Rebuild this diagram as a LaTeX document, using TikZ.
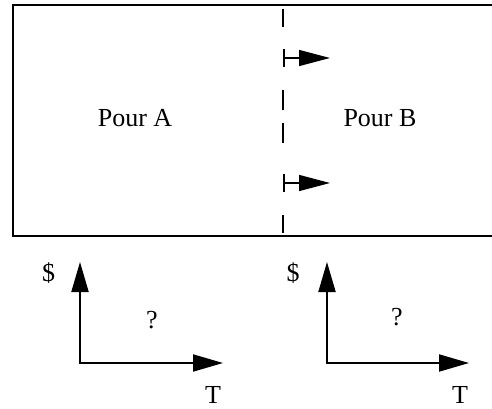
\documentclass[tikz,border=0pt]{standalone}
\usepackage{fontspec}
\setmainfont{Liberation Serif}
\usetikzlibrary{arrows.meta}
\begin{document}
\begin{tikzpicture}[x=1pt,y=-1pt,
  frame/.style={line width=2pt},
  dashseg/.style={line width=2pt},
  flowarrow/.style={line width=1.4pt, {Bar[width=18pt,line width=2pt]}-{Triangle[length=31pt,width=16pt]}},
  axis/.style={line width=2pt, {Triangle[length=30pt,width=17pt]}-{Triangle[length=30pt,width=17pt]}},
  lbl/.style={font=\fontsize{26}{30}\selectfont, inner sep=0pt, anchor=base}]
\useasboundingbox (0,0) rectangle (492,409);
% box (right side runs off the picture)
\draw[frame] (492,5) -- (13,5) -- (13,236) -- (492,236);
% dashed divider
\foreach \ya/\yb in {9/27, 90/110, 123/143, 215/233}
  \draw[dashseg] (283,\ya) -- (283,\yb);
% flow arrows
\coordinate (a1s) at (283,58);
\coordinate (a1e) at (330,58);
\coordinate (a2s) at (283,183);
\coordinate (a2e) at (330,183);
\draw[flowarrow] (a1s) -- (a1e);
\draw[flowarrow] (a2s) -- (a2e);
% labels in box
\node[lbl] (pa) at (135,126) {Pour A};
\node[lbl] (pb) at (380,126) {Pour B};
% left axes
\coordinate (o1) at (80,363);
\coordinate (y1) at (80,262);
\coordinate (x1) at (223,363);
\draw[axis] (y1) -- (o1) -- (x1);
\node[lbl] (d1) at (48.5,281) {\$};
\node[lbl] (q1) at (152,328) {?};
\node[lbl] (t1) at (213,403) {T};
% right axes
\coordinate (o2) at (327,363);
\coordinate (y2) at (327,262);
\coordinate (x2) at (469,363);
\draw[axis] (y2) -- (o2) -- (x2);
\node[lbl] (d2) at (293,281) {\$};
\node[lbl] (q2) at (397,325) {?};
\node[lbl] (t2) at (460,403) {T};
\end{tikzpicture}
\end{document}
